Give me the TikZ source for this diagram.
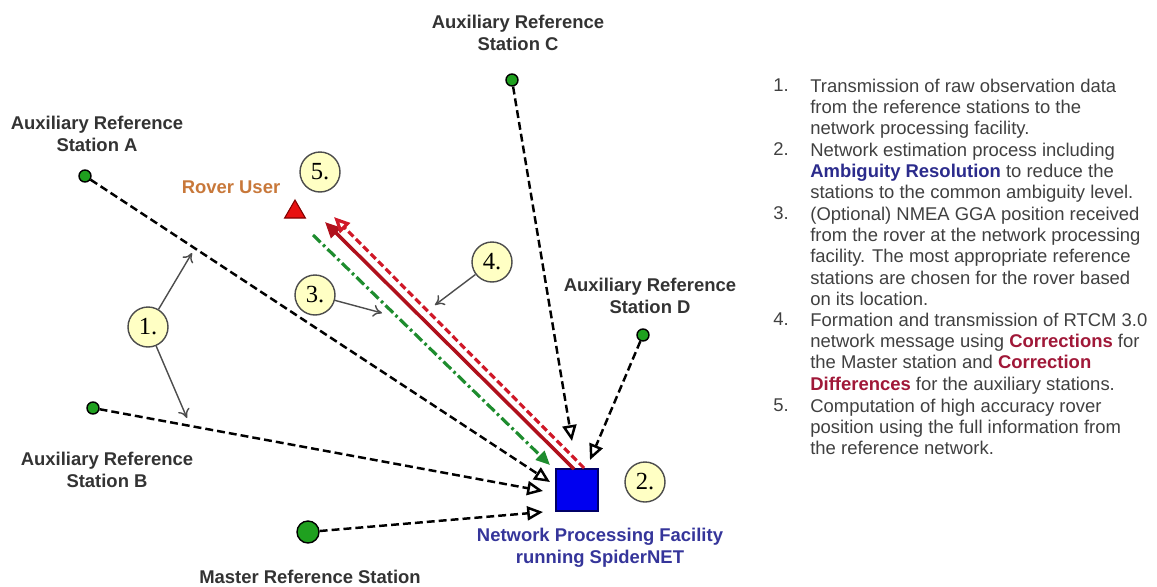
\documentclass[tikz,border=0pt]{standalone}
\usepackage{fontspec}
\setmainfont{Liberation Sans}
\newfontfamily\numfont{Liberation Serif}
\usetikzlibrary{arrows.meta,shapes.geometric}

\definecolor{stagreen}{HTML}{1FA01F}
\definecolor{lblgray}{HTML}{333333}
\definecolor{listgray}{HTML}{404040}
\definecolor{rovorange}{HTML}{C8783A}
\definecolor{npfblue}{HTML}{0000F0}
\definecolor{npftext}{HTML}{35359A}
\definecolor{callfill}{HTML}{FFFFC4}
\definecolor{corrred}{HTML}{A01838}
\definecolor{ambblue}{HTML}{2B2B8C}
\definecolor{msgred}{HTML}{B0101C}
\definecolor{msgdash}{HTML}{D01828}
\definecolor{ggagreen}{HTML}{1E8C2E}
\definecolor{rovred}{HTML}{E81010}

\tikzset{
	station/.style = {circle, fill = stagreen, draw = black, line width = 0.8pt, minimum size = 0.24cm, inner sep = 0},
	stalabel/.style = {font = \fontsize{10.5}{12.5}\selectfont\bfseries, text = lblgray, align = center, inner sep = 0},
	callout/.style = {circle, fill = callfill, draw = black!70, line width = 0.8pt, minimum size = 0.8cm, inner sep = 0, font = \numfont\fontsize{14}{14}\selectfont},
	obsline/.style = {line width = 1.4pt, dash pattern = on 4.5pt off 2.3pt, -{Triangle[fill = white, length = 9pt, width = 8pt]}},
	ggaline/.style = {ggagreen, line width = 1.8pt, dash pattern = on 6pt off 2pt on 1.5pt off 2pt, -{Triangle[length = 8pt, width = 7pt]}},
	msgsolid/.style = {msgred, line width = 2pt, -{Triangle[length = 9pt, width = 8pt]}},
	msgdashed/.style = {msgdash, line width = 1.8pt, dash pattern = on 4pt off 2pt, -{Triangle[fill = white, length = 9pt, width = 8pt]}},
	pointer/.style = {black!70, line width = 0.8pt, -{To[length = 5pt, width = 7pt]}},
	listnum/.style = {anchor = north west, inner sep = 0, font = \fontsize{10.5}{12.1}\selectfont, text = listgray},
	listtext/.style = {listnum, align = left},
}

\begin{document}
\begin{tikzpicture}[x = 0.02cm, y = -0.02cm]
	\useasboundingbox (0,0) rectangle (1157,586);

	% reference stations
	\node[station] (staA) at (85,176) {};
	\node[station] (staB) at (93,408) {};
	\node[station] (staC) at (512,80) {};
	\node[station] (staD) at (643,335) {};
	\node[station, minimum size = 0.44cm] (master) at (308,532) {};
	\node[stalabel] (lblA) at (97,134) {Auxiliary Reference\\Station A};
	\node[stalabel] (lblB) at (107,470) {Auxiliary Reference\\Station B};
	\node[stalabel] (lblC) at (518,33) {Auxiliary Reference\\Station C};
	\node[stalabel] (lblD) at (650,296) {Auxiliary Reference\\Station D};
	\node[stalabel] (lblM) at (310,577) {Master Reference Station};

	% rover and processing facility
	\node[regular polygon, regular polygon sides = 3, fill = rovred, draw = red!50!black, line width = 0.6pt, minimum size = 0.48cm, inner sep = 0] (rover) at (295,212) {};
	\node[stalabel, text = rovorange] (lblR) at (231,187) {Rover User};
	\node[rectangle, fill = npfblue, draw = blue!40!black, line width = 1pt, minimum size = 0.84cm, inner sep = 0] (npf) at (577,490) {};
	\node[stalabel, text = npftext] (lblN) at (600,548) {Network Processing Facility\\running SpiderNET};

	% numbered callouts
	\node[callout] (n1) at (148,327) {1.};
	\node[callout] (n2) at (645,482) {2.};
	\node[callout] (n3) at (315,295) {3.};
	\node[callout] (n4) at (492,262) {4.};
	\node[callout] (n5) at (320,172) {5.};

	% raw data into the facility
	\coordinate (tipA) at (550,482);
	\coordinate (tipB) at (543,491);
	\coordinate (tipM) at (543,512);
	\coordinate (tipC) at (572,441);
	\coordinate (tipD) at (590,460);
	\draw[obsline] (staA) -- (tipA);
	\draw[obsline] (staB) -- (tipB);
	\draw[obsline] (master) -- (tipM);
	\draw[obsline] (staC) -- (tipC);
	\draw[obsline] (staD) -- (tipD);

	% rover link
	\coordinate (ggaS) at (313,235);
	\coordinate (ggaE) at (550,465);
	\coordinate (msgS) at (574,469);
	\coordinate (msgE) at (325,222);
	\coordinate (difS) at (584,468);
	\coordinate (difE) at (334,217);
	\draw[ggaline] (ggaS) -- (ggaE);
	\draw[msgsolid] (msgS) -- (msgE);
	\draw[msgdashed] (difS) -- (difE);

	% pointers from the callouts
	\coordinate (p1a) at (192,253);
	\coordinate (p1b) at (187,418);
	\coordinate (p3) at (382,313);
	\coordinate (p4) at (435,305);
	\draw[pointer] (n1) -- (p1a);
	\draw[pointer] (n1) -- (p1b);
	\draw[pointer] (n3) -- (p3);
	\draw[pointer] (n4) -- (p4);

	% legend
	\node[listnum] (k1) at (773,78.5) {1.};
	\node[listnum] (k2) at (773,142.5) {2.};
	\node[listnum] (k3) at (773,206.5) {3.};
	\node[listnum] (k4) at (773,312.5) {4.};
	\node[listnum] (k5) at (773,398.5) {5.};
	\node[listtext] (t1) at (810,78.5) {Transmission of raw observation data\\from the reference stations to the\\network processing facility.};
	\node[listtext] (t2) at (810,142.5) {Network estimation process including\\\textbf{\textcolor{ambblue}{Ambiguity Resolution}} to reduce the\\stations to the common ambiguity level.};
	\node[listtext] (t3) at (810,206.5) {(Optional) NMEA GGA position received\\from the rover at the network processing\\facility. The most appropriate reference\\stations are chosen for the rover based\\on its location.};
	\node[listtext] (t4) at (810,312.5) {Formation and transmission of RTCM 3.0\\network message using \textbf{\textcolor{corrred}{Corrections}} for\\the Master station and \textbf{\textcolor{corrred}{Correction}}\\\textbf{\textcolor{corrred}{Differences}} for the auxiliary stations.};
	\node[listtext] (t5) at (810,398.5) {Computation of high accuracy rover\\position using the full information from\\the reference network.};
\end{tikzpicture}
\end{document}
